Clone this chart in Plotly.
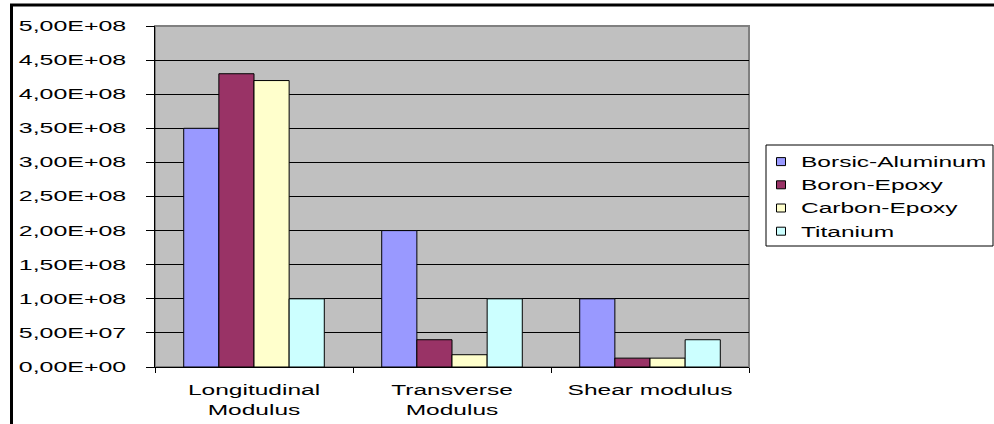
import plotly.graph_objects as go

# Elastic moduli of candidate structural materials (Pa)
categories = ["Longitudinal<br>Modulus", "Transverse<br>Modulus", "Shear modulus"]
series_names = ["Borsic-Aluminum", "Boron-Epoxy", "Carbon-Epoxy", "Titanium"]
borsic_aluminum = [3.5e8, 2.0e8, 1.0e8]
boron_epoxy = [4.3e8, 4.0e7, 1.3e7]
carbon_epoxy = [4.2e8, 1.8e7, 1.3e7]
titanium = [1.0e8, 1.0e8, 4.0e7]

y_tick_values = [0, 5e7, 1e8, 1.5e8, 2e8, 2.5e8, 3e8, 3.5e8, 4e8, 4.5e8, 5e8]
y_tick_labels = ["0,00E+00", "5,00E+07", "1,00E+08", "1,50E+08", "2,00E+08",
                 "2,50E+08", "3,00E+08", "3,50E+08", "4,00E+08", "4,50E+08", "5,00E+08"]

colors = ["#9999FF", "#993366", "#FFFFCC", "#CCFFFF"]
values = [borsic_aluminum, boron_epoxy, carbon_epoxy, titanium]

W, H = 994, 424
ML, MR, MT, MB = 155, 245, 26, 57
PW, PH = W - ML - MR, H - MT - MB


def px_x(p):
    return (p - ML) / PW


def px_y(p):
    return (H - MB - p) / PH


fig = go.Figure()
for name, vals, col in zip(series_names, values, colors):
    fig.add_trace(go.Bar(
        x=categories, y=vals, name=name, legendgroup=name,
        marker=dict(color=col, line=dict(color="black", width=1)),
    ))

font = dict(family="Liberation Sans, Arial, sans-serif", size=14, color="black")

fig.update_layout(
    width=W, height=H, autosize=False,
    margin=dict(l=ML, r=MR, t=MT, b=MB, pad=0, autoexpand=False),
    paper_bgcolor="white", plot_bgcolor="#C0C0C0",
    font=font,
    barmode="group", bargap=0.29, bargroupgap=0,
    showlegend=True,
    legend=dict(
        x=px_x(761), y=px_y(146), xanchor="left", yanchor="top",
        bgcolor="rgba(0,0,0,0)", borderwidth=0, font=font,
        tracegroupgap=2.0, itemclick=False,
    ),
    xaxis=dict(
        type="category", showgrid=False, zeroline=False, automargin=False,
        showline=True, linecolor="black", linewidth=1,
        ticks="outside", tickson="boundaries", ticklen=5, tickcolor="black",
        ticklabelstandoff=10, tickfont=font,
    ),
    yaxis=dict(
        range=[0, 5e8], tickvals=y_tick_values, ticktext=y_tick_labels,
        showgrid=True, gridcolor="black", gridwidth=1, zeroline=False,
        automargin=False,
        showline=True, linecolor="black", linewidth=1,
        ticks="outside", ticklen=8, tickcolor="black",
        ticklabelstandoff=17, tickfont=font,
    ),
    shapes=[
        # plot-area border (top and right)
        dict(type="rect", xref="paper", yref="paper", x0=0, x1=1, y0=0, y1=1,
             line=dict(color="#808080", width=2), layer="below"),
        # legend box
        dict(type="rect", xref="paper", yref="paper",
             x0=px_x(766), x1=px_x(993), y0=px_y(246), y1=px_y(145),
             line=dict(color="black", width=1)),
        # outer chart frame
        dict(type="rect", xref="paper", yref="paper",
             x0=px_x(11.5), x1=px_x(1010), y0=px_y(440), y1=px_y(5),
             line=dict(color="black", width=3)),
    ],
)

# widen the label text horizontally, loosen the category line spacing,
# and shrink the legend swatches
post = """
var gd = document.getElementById('{plot_id}');
function widen(sel, k){
  gd.querySelectorAll(sel).forEach(function(t){
    var lines = t.querySelectorAll('tspan.line');
    var items = lines.length ? Array.prototype.slice.call(lines) : [t];
    items.forEach(function(el, i){
      var w = el.getComputedTextLength();
      el.setAttribute('textLength', w * k);
      el.setAttribute('lengthAdjust', 'spacingAndGlyphs');
      if (i > 0) { el.setAttribute('dy', '1.45em'); }
    });
  });
}
widen('.xtick text', 1.75);
widen('.legendtext', 1.75);
widen('.ytick text', 1.78);
gd.querySelectorAll('.legend [clip-path]').forEach(function(g){
  g.removeAttribute('clip-path');
});
gd.querySelectorAll('.legendpoints path').forEach(function(p){
  p.setAttribute('d', 'M4.5,4H-4.5V-4H4.5Z');
});
"""

fig.write_html("out.html", post_script=post, config={"displayModeBar": False})
